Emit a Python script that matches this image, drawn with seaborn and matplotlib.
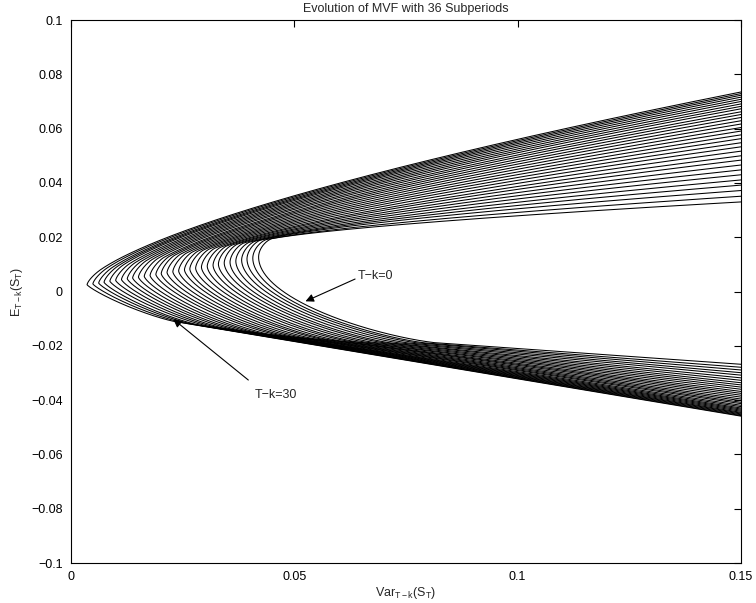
import matplotlib
matplotlib.use("Agg")
import matplotlib.pyplot as plt
import matplotlib.ticker as mtick
import numpy as np
import pandas as pd
import seaborn as sns

# ── data (index 0 = T-k=0 innermost, 30 = outermost) ──
VAR_END = 0.15
vertex_var = [0.0420, 0.0407, 0.0394, 0.0382, 0.0369, 0.0356, 0.0343, 0.0330,
              0.0318, 0.0305, 0.0292, 0.0279, 0.0266, 0.0254, 0.0241, 0.0228,
              0.0215, 0.0202, 0.0190, 0.0177, 0.0164, 0.0151, 0.0138, 0.0126,
              0.0113, 0.0100, 0.0087, 0.0074, 0.0062, 0.0049, 0.0036]
vertex_mean = [0.0127, 0.0123, 0.0120, 0.0116, 0.0112, 0.0108, 0.0105, 0.0101,
               0.0097, 0.0093, 0.0090, 0.0086, 0.0083, 0.0080, 0.0076, 0.0073,
               0.0070, 0.0066, 0.0063, 0.0059, 0.0056, 0.0053, 0.0050, 0.0047,
               0.0044, 0.0041, 0.0038, 0.0034, 0.0031, 0.0028, 0.0025]
upper_end = [0.0330, 0.0351, 0.0372, 0.0392, 0.0411, 0.0430, 0.0448, 0.0466,
             0.0484, 0.0500, 0.0517, 0.0533, 0.0548, 0.0563, 0.0577, 0.0591,
             0.0604, 0.0617, 0.0629, 0.0641, 0.0652, 0.0662, 0.0673, 0.0682,
             0.0691, 0.0700, 0.0708, 0.0716, 0.0723, 0.0729, 0.0735]
lower_end = [-0.0268, -0.0279, -0.0289, -0.0299, -0.0308, -0.0318, -0.0327, -0.0336,
             -0.0344, -0.0352, -0.0360, -0.0368, -0.0375, -0.0382, -0.0389, -0.0396,
             -0.0402, -0.0408, -0.0413, -0.0419, -0.0424, -0.0429, -0.0433, -0.0437,
             -0.0441, -0.0445, -0.0448, -0.0451, -0.0454, -0.0457, -0.0459]
# height of the bend next to the vertex, upper and lower branch
upper_bend = [0.0055, 0.0053, 0.0052, 0.0050, 0.0048, 0.0047, 0.0045, 0.0043,
              0.0042, 0.0040, 0.0038, 0.0037, 0.0035, 0.0033, 0.0032, 0.0030,
              0.0028, 0.0027, 0.0025, 0.0023, 0.0022, 0.0020, 0.0018, 0.0017,
              0.0015, 0.0013, 0.0012, 0.0010, 0.0008, 0.0007, 0.0005]
lower_bend = [-0.0270, -0.0264, -0.0257, -0.0251, -0.0245, -0.0239, -0.0232, -0.0226,
              -0.0220, -0.0214, -0.0207, -0.0201, -0.0195, -0.0188, -0.0182, -0.0176,
              -0.0170, -0.0163, -0.0157, -0.0151, -0.0145, -0.0138, -0.0132, -0.0126,
              -0.0120, -0.0113, -0.0107, -0.0101, -0.0094, -0.0088, -0.0082]
# variance span of the lower bend
lower_bend_width = [0.0400, 0.0393, 0.0387, 0.0380, 0.0373, 0.0367, 0.0360, 0.0353,
                    0.0347, 0.0340, 0.0333, 0.0327, 0.0320, 0.0313, 0.0307, 0.0300,
                    0.0293, 0.0287, 0.0280, 0.0273, 0.0267, 0.0260, 0.0253, 0.0247,
                    0.0240, 0.0233, 0.0227, 0.0220, 0.0213, 0.0207, 0.0200]
# roundness of the vertex (0.5 = round C, towards 1 = pointed)
nose_shape = [0.50, 0.51, 0.52, 0.53, 0.54, 0.55, 0.56, 0.57,
              0.58, 0.59, 0.60, 0.61, 0.62, 0.63, 0.64, 0.65,
              0.66, 0.67, 0.68, 0.69, 0.70, 0.71, 0.72, 0.73,
              0.74, 0.75, 0.76, 0.77, 0.78, 0.79, 0.80]
UPPER_BEND_WIDTH = 0.003
UPPER_TAIL_POWER = 0.68

x_ticks = [0, 0.05, 0.1, 0.15]
y_ticks = [-0.1, -0.08, -0.06, -0.04, -0.02, 0, 0.02, 0.04, 0.06, 0.08, 0.1]

sns.set_style("white")
plt.rcParams["font.family"] = ["Liberation Sans", "DejaVu Sans"]
plt.rcParams["mathtext.fontset"] = "custom"
plt.rcParams["mathtext.rm"] = "Liberation Sans"
plt.rcParams["mathtext.it"] = "Liberation Sans"


def _bend(d, h, width, r):
    x = np.clip(d / width, 0, 1)
    return h * (1 - (1 - x) ** 1.5) ** r


def frontier(v0, e0, up, lo, hu, hl, wl, r, n=400):
    span = VAR_END - v0
    d = span * np.linspace(0, 1, n) ** 2
    c_up = (up - e0 - hu) / span ** UPPER_TAIL_POWER
    c_lo = (lo - e0 - hl) / span
    e_up = e0 + _bend(d, hu, UPPER_BEND_WIDTH, r) + c_up * d ** UPPER_TAIL_POWER
    e_lo = e0 + _bend(d, hl, wl, r) + c_lo * d
    var = np.concatenate([v0 + d[::-1], v0 + d[1:]])
    mean = np.concatenate([e_lo[::-1], e_up[1:]])
    return var, mean


frames = []
for k in range(len(vertex_var)):
    v, m = frontier(vertex_var[k], vertex_mean[k], upper_end[k], lower_end[k],
                    upper_bend[k], lower_bend[k], lower_bend_width[k], nose_shape[k])
    frames.append(pd.DataFrame({"var": v, "mean": m, "curve": k}))
df = pd.concat(frames, ignore_index=True)

fig = plt.figure(figsize=(7.56, 6.03), dpi=100)
ax = fig.add_axes([0.0939, 0.0663, 0.8863, 0.9005])
sns.lineplot(data=df, x="var", y="mean", units="curve", estimator=None, sort=False,
             color="black", lw=0.75, ax=ax)

ax.set_xlim(0, 0.15)
ax.set_ylim(-0.1, 0.1)
ax.set_xticks(x_ticks)
ax.set_yticks(y_ticks)
fmt = mtick.FuncFormatter(lambda v, _: f"{v:g}".replace("-", "\u2212"))
ax.xaxis.set_major_formatter(fmt)
ax.yaxis.set_major_formatter(fmt)
ax.tick_params(direction="in", length=5, width=0.8, top=True, right=True,
               labelsize=9, pad=6, colors="black")
for s in ax.spines.values():
    s.set_color("black")
    s.set_linewidth(0.8)

ax.set_title("Evolution of MVF with 36 Subperiods", fontsize=9, pad=6)
ax.set_xlabel("$\\mathrm{Var}_{T-k}(S_T)$", fontsize=9, labelpad=1)
ax.set_ylabel("$E_{T-k}(S_T)$", fontsize=9, labelpad=4)

arrow = dict(arrowstyle="-|>", color="black", lw=0.8, mutation_scale=12,
             shrinkA=0, shrinkB=0)
ax.annotate("", xy=(0.0525, -0.0036), xytext=(0.0636, 0.0046), arrowprops=arrow)
ax.text(0.0642, 0.0056, "T\u2212k=0", fontsize=9, va="center", ha="left")
ax.annotate("", xy=(0.0229, -0.0102), xytext=(0.0397, -0.0326), arrowprops=arrow)
ax.text(0.0459, -0.0381, "T\u2212k=30", fontsize=9, va="center", ha="center")

fig.savefig("out.png", dpi=100)
